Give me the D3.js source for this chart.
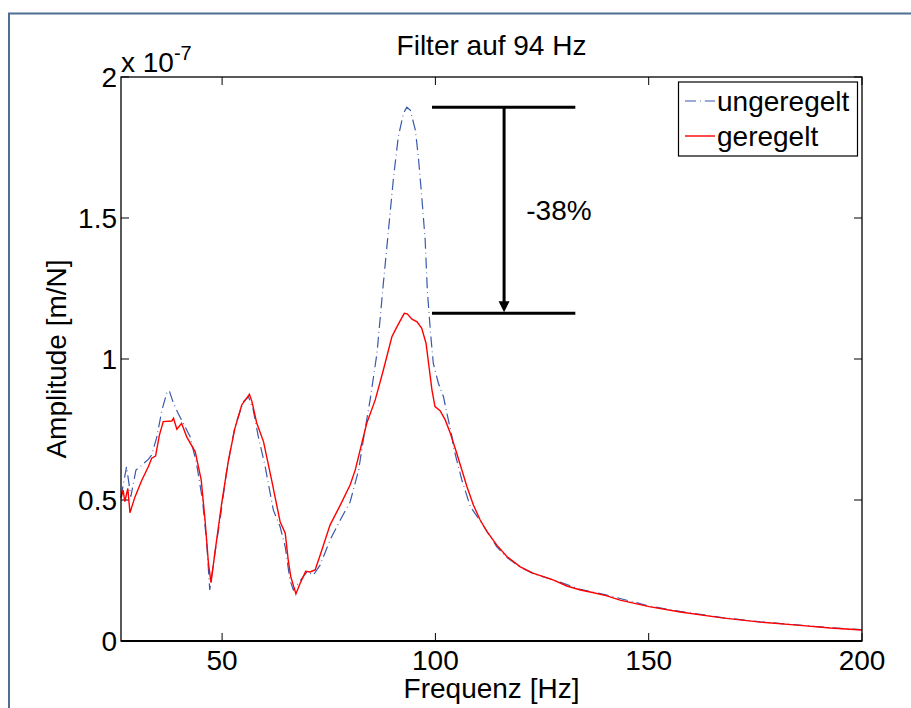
<!DOCTYPE html>
<html>
<head>
<meta charset="utf-8">
<script src="https://cdn.jsdelivr.net/npm/d3@7"></script>
<style>
  body { margin: 0; background: #fff; }
  svg text { font-family: "Liberation Sans", Arial, Helvetica, sans-serif; fill: #000; }
</style>
</head>
<body>
<script>
// Amplitude values in units of 1e-7 m/N, frequencies in Hz
const freqUngeregelt = [26.3, 27.6, 28.6, 29.8, 31.0, 32.7, 33.5, 34.7, 35.9, 37.0, 37.6, 38.6, 39.7, 41.3, 42.5, 44.0, 45.4, 46.4, 47.1, 48.2, 49.5, 51.1, 53.0, 55.0, 56.2, 57.3, 58.5, 60.1, 62.0, 63.6, 64.8, 65.9, 66.7, 67.9, 69.9, 71.4, 73.0, 75.3, 77.7, 80.0, 82.0, 83.1, 84.7, 86.3, 87.8, 89.0, 90.2, 91.3, 92.5, 93.3, 94.1, 95.3, 96.0, 96.8, 97.6, 98.1, 98.8, 99.5, 100.7, 101.9, 102.7, 103.9, 104.2, 106.2, 108.2, 110.9, 114.4, 116.8, 119.9, 123.0, 127.7, 134.0, 140.2, 150.1, 157.4, 167.2, 176.2, 184.1, 192.6, 200];
const ampUngeregelt = [0.51, 0.618, 0.512, 0.606, 0.621, 0.644, 0.66, 0.724, 0.819, 0.878, 0.888, 0.843, 0.807, 0.76, 0.724, 0.63, 0.5, 0.346, 0.181, 0.299, 0.429, 0.606, 0.76, 0.849, 0.866, 0.819, 0.724, 0.618, 0.465, 0.405, 0.334, 0.216, 0.181, 0.205, 0.246, 0.234, 0.27, 0.358, 0.429, 0.493, 0.606, 0.713, 0.855, 1.02, 1.268, 1.457, 1.646, 1.788, 1.871, 1.893, 1.883, 1.812, 1.717, 1.576, 1.422, 1.245, 1.103, 0.985, 0.914, 0.866, 0.807, 0.724, 0.689, 0.571, 0.476, 0.417, 0.334, 0.296, 0.262, 0.238, 0.217, 0.183, 0.163, 0.124, 0.105, 0.083, 0.068, 0.058, 0.047, 0.04];

const freqGeregelt = [26.3, 26.8, 27.2, 27.9, 28.4, 29.6, 31.2, 32.7, 33.5, 34.4, 35.3, 36.2, 38.2, 38.6, 39.4, 40.5, 41.7, 43.7, 45.1, 46.0, 46.8, 47.4, 48.4, 49.9, 51.5, 53.0, 54.6, 56.4, 57.0, 58.1, 59.7, 61.6, 63.6, 64.8, 65.5, 66.1, 67.3, 68.3, 69.6, 70.6, 71.8, 73.0, 75.3, 77.7, 80.0, 81.2, 83.9, 85.9, 87.8, 89.8, 91.0, 92.7, 93.4, 94.5, 95.7, 96.8, 97.8, 98.4, 99.2, 99.9, 101.1, 102.3, 103.5, 105.0, 107.4, 108.9, 110.5, 112.1, 114.4, 116.8, 119.9, 123.0, 125.3, 127.7, 130.8, 134.0, 137.1, 140.2, 143.3, 150.1, 157.4, 167.2, 176.2, 184.1, 192.6, 200];
const ampGeregelt = [0.506, 0.535, 0.494, 0.541, 0.455, 0.512, 0.571, 0.618, 0.648, 0.656, 0.73, 0.778, 0.78, 0.79, 0.751, 0.772, 0.724, 0.671, 0.571, 0.429, 0.275, 0.207, 0.323, 0.488, 0.642, 0.754, 0.837, 0.875, 0.849, 0.774, 0.707, 0.571, 0.423, 0.382, 0.287, 0.228, 0.167, 0.205, 0.247, 0.245, 0.252, 0.305, 0.411, 0.482, 0.553, 0.606, 0.772, 0.855, 0.961, 1.079, 1.115, 1.162, 1.16, 1.141, 1.132, 1.109, 1.056, 0.985, 0.89, 0.831, 0.817, 0.784, 0.737, 0.666, 0.547, 0.482, 0.429, 0.388, 0.34, 0.299, 0.263, 0.24, 0.228, 0.216, 0.195, 0.181, 0.171, 0.16, 0.145, 0.122, 0.103, 0.082, 0.067, 0.057, 0.046, 0.039];

const xTicks = [50, 100, 150, 200];
const yTicks = [0, 0.5, 1, 1.5, 2];
const yTickLabels = ["0", "0.5", "1", "1.5", "2"];
const seriesNames = ["ungeregelt", "geregelt"];

// annotation: horizontal bar span and arrow position (Hz)
const annotSpan = [99.2, 132.8];
const annotArrowF = 116.1;
const annotLabelF = 121.3;
const annotText = "-38%";

const width = 911, height = 708;
const margin = {top: 77, left: 121, right: 49, bottom: 67};
const fontSize = 28;
const blueDash = "11,4,0.8,4";

const svg = d3.select("body").append("svg")
  .attr("width", width)
  .attr("height", height);

// outer frame (top + left edge only visible)
svg.append("path")
  .attr("d", `M9,${height} L9,13.5 L${width},13.5`)
  .attr("fill", "none")
  .attr("stroke", "#4f6f92")
  .attr("stroke-width", 2);

const x = d3.scaleLinear().domain([26.3, 200]).range([margin.left, width - margin.right]);
const y = d3.scaleLinear().domain([0, 2]).range([height - margin.bottom, margin.top]);

const x0 = x.range()[0], x1 = x.range()[1];
const y0 = y.range()[0], y1 = y.range()[1];

// ticks inward on all four sides
const tickLen = 8;
const ticks = svg.append("g").attr("stroke", "#000").attr("stroke-width", 1);
xTicks.forEach(t => {
  ticks.append("line").attr("x1", x(t)).attr("x2", x(t)).attr("y1", y0).attr("y2", y0 - tickLen);
  ticks.append("line").attr("x1", x(t)).attr("x2", x(t)).attr("y1", y1).attr("y2", y1 + tickLen);
});
yTicks.forEach(t => {
  ticks.append("line").attr("x1", x0).attr("x2", x0 + tickLen).attr("y1", y(t)).attr("y2", y(t));
  ticks.append("line").attr("x1", x1).attr("x2", x1 - tickLen).attr("y1", y(t)).attr("y2", y(t));
});

// tick labels
svg.append("g").selectAll("text")
  .data(xTicks)
  .enter()
  .append("text")
  .attr("x", d => x(d))
  .attr("y", y0 + 29)
  .attr("text-anchor", "middle")
  .attr("font-size", fontSize)
  .text(d => d);

svg.append("g").selectAll("text")
  .data(yTicks)
  .enter()
  .append("text")
  .attr("x", x0 - 4)
  .attr("y", d => y(d))
  .attr("dy", "0.36em")
  .attr("text-anchor", "end")
  .attr("font-size", fontSize)
  .text((d, i) => yTickLabels[i]);

// exponent label
const expo = svg.append("text")
  .attr("x", x0)
  .attr("y", y1 - 5)
  .attr("font-size", fontSize);
expo.append("tspan").text("x 10");
expo.append("tspan").attr("font-size", 20).attr("dy", -12).text("-7");

// curves
const line = d3.line()
  .x(d => x(d[0]))
  .y(d => y(d[1]));

const plotArea = svg.append("g");
plotArea.append("path")
  .datum(d3.zip(freqUngeregelt, ampUngeregelt))
  .attr("fill", "none")
  .attr("stroke", "#3a58ac")
  .attr("stroke-width", 1.2)
  .attr("stroke-dasharray", blueDash)
  .attr("d", line);

plotArea.append("path")
  .datum(d3.zip(freqGeregelt, ampGeregelt))
  .attr("fill", "none")
  .attr("stroke", "#ff0000")
  .attr("stroke-width", 1.4)
  .attr("d", line);

// axes box
svg.append("rect")
  .attr("x", x0).attr("y", y1)
  .attr("width", x1 - x0).attr("height", y0 - y1)
  .attr("fill", "none")
  .attr("stroke", "#000")
  .attr("stroke-width", 1.3);
svg.append("line")
  .attr("x1", x0).attr("x2", x1).attr("y1", y0).attr("y2", y0)
  .attr("stroke", "#000").attr("stroke-width", 2);

// annotation
const topV = d3.max(ampUngeregelt);
const botV = d3.max(ampGeregelt);
const annot = svg.append("g").attr("stroke", "#000").attr("stroke-width", 3);
[topV, botV].forEach(v => {
  annot.append("line")
    .attr("x1", x(annotSpan[0])).attr("x2", x(annotSpan[1]))
    .attr("y1", y(v)).attr("y2", y(v));
});
annot.append("line")
  .attr("x1", x(annotArrowF)).attr("x2", x(annotArrowF))
  .attr("y1", y(topV)).attr("y2", y(botV) - 10);
svg.append("path")
  .attr("d", `M${x(annotArrowF) - 5.5},${y(botV) - 12} L${x(annotArrowF) + 5.5},${y(botV) - 12} L${x(annotArrowF)},${y(botV) - 1} Z`)
  .attr("fill", "#000");
svg.append("text")
  .attr("x", x(annotLabelF))
  .attr("y", (y(topV) + y(botV)) / 2)
  .attr("dy", "0.36em")
  .attr("font-size", fontSize)
  .text(annotText);

// legend
const legend = svg.append("g").attr("id", "legend");
legend.append("rect")
  .attr("x", 678.5).attr("y", 82)
  .attr("width", 179).attr("height", 74)
  .attr("fill", "#fff")
  .attr("stroke", "#000")
  .attr("stroke-width", 1.2);
const legendStyles = [
  {stroke: "#3a58ac", dash: blueDash, w: 1.2},
  {stroke: "#ff0000", dash: null, w: 1.4}
];
seriesNames.forEach((name, i) => {
  const ly = 101 + i * 35;
  legend.append("line")
    .attr("x1", 685).attr("x2", 715)
    .attr("y1", ly).attr("y2", ly)
    .attr("stroke", legendStyles[i].stroke)
    .attr("stroke-width", legendStyles[i].w)
    .attr("stroke-dasharray", legendStyles[i].dash);
  legend.append("text")
    .attr("x", 717)
    .attr("y", ly)
    .attr("dy", "0.36em")
    .attr("font-size", fontSize)
    .text(name);
});

// titles
svg.append("text")
  .attr("x", (x0 + x1) / 2)
  .attr("y", 55)
  .attr("text-anchor", "middle")
  .attr("font-size", fontSize)
  .text("Filter auf 94 Hz");

svg.append("text")
  .attr("x", (x0 + x1) / 2)
  .attr("y", 698)
  .attr("text-anchor", "middle")
  .attr("font-size", fontSize)
  .text("Frequenz [Hz]");

svg.append("text")
  .attr("transform", `translate(66,${(y0 + y1) / 2}) rotate(-90)`)
  .attr("text-anchor", "middle")
  .attr("font-size", fontSize)
  .text("Amplitude [m/N]");
</script>
</body>
</html>
